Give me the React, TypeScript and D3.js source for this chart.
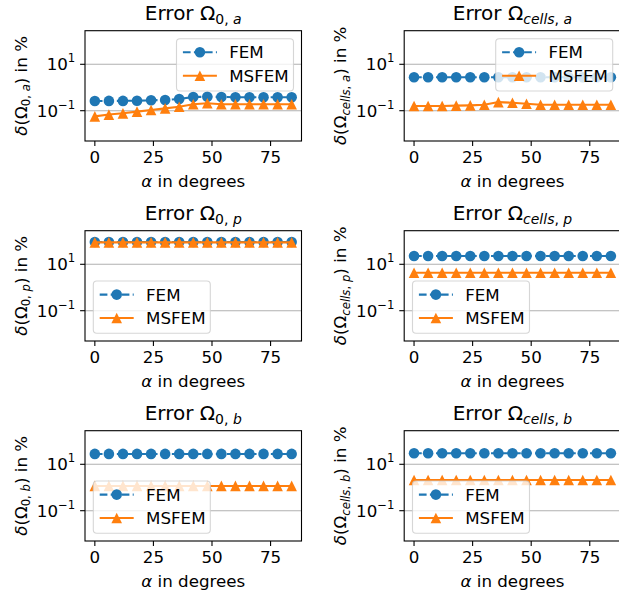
import React from 'react';
import * as d3 from 'd3';

const angles = [0, 6, 12, 18, 24, 30, 36, 42, 48, 54, 60, 66, 72, 78, 84];

const fem0a = [0.26, 0.265, 0.265, 0.27, 0.28, 0.29, 0.32, 0.39, 0.40, 0.39, 0.38, 0.38, 0.38, 0.38, 0.38];
const msfem0a = [0.057, 0.068, 0.077, 0.091, 0.107, 0.126, 0.149, 0.19, 0.21, 0.19, 0.19, 0.19, 0.19, 0.19, 0.19];
const femCellsA = [2.75, 2.75, 2.75, 2.75, 2.75, 2.75, 2.75, 2.75, 2.75, 2.75, 2.75, 2.75, 2.75, 2.75, 2.75];
const msfemCellsA = [0.16, 0.16, 0.16, 0.165, 0.17, 0.18, 0.235, 0.22, 0.2, 0.18, 0.18, 0.18, 0.18, 0.18, 0.18];
const fem0p = [92, 92, 92, 92, 92, 92, 92, 92, 92, 92, 92, 92, 92, 92, 92];
const msfem0p = [88, 88, 88, 88, 88, 88, 88, 88, 88, 88, 88, 88, 88, 88, 88];
const femCellsP = [22.8, 22.8, 22.8, 22.8, 22.8, 22.8, 22.8, 22.8, 22.8, 22.8, 22.8, 22.8, 22.8, 22.8, 22.8];
const msfemCellsP = [4.35, 4.35, 4.35, 4.35, 4.35, 4.35, 4.35, 4.35, 4.35, 4.35, 4.35, 4.35, 4.35, 4.35, 4.35];
const fem0b = [28, 28, 28, 28, 28, 28, 28, 28, 28, 28, 28, 28, 28, 28, 28];
const msfem0b = [1.17, 1.17, 1.17, 1.17, 1.17, 1.17, 1.17, 1.17, 1.17, 1.17, 1.17, 1.17, 1.17, 1.17, 1.17];
const femCellsB = [29.8, 29.8, 29.8, 29.8, 29.8, 29.8, 29.8, 29.8, 29.8, 29.8, 29.8, 29.8, 29.8, 29.8, 29.8];
const msfemCellsB = [2.12, 2.12, 2.12, 2.12, 2.12, 2.12, 2.12, 2.12, 2.12, 2.12, 2.12, 2.12, 2.12, 2.12, 2.12];

const seriesNames = ['FEM', 'MSFEM'];
const subMain = ['0', 'cells', '0', 'cells', '0', 'cells'];
const subIdx = ['a', 'a', 'p', 'p', 'b', 'b'];
const femData = [fem0a, femCellsA, fem0p, femCellsP, fem0b, femCellsB];
const msfemData = [msfem0a, msfemCellsA, msfem0p, msfemCellsP, msfem0b, msfemCellsB];
const legendLoc = ['upper right', 'upper right', 'lower left', 'lower left', 'lower left', 'lower left'];

const xTicks = [0, 25, 50, 75];
const yTicks = [10, 0.1];
const yTickExp = ['1', '\u22121'];

const BLUE = '#1f77b4';
const ORANGE = '#ff7f0e';
const FONT = 'DejaVu Sans, sans-serif';

const colX = [85, 404.2];
const rowY = [30.7, 230.7, 430.7];
const AW = 216.5;
const AH = 110.3;

function Panel({ i }: { i: number }) {
  const left = colX[i % 2];
  const top = rowY[Math.floor(i / 2)];
  const x = d3.scaleLinear().domain([-4.2, 88.2]).range([left, left + AW]);
  const y = d3.scaleLog().domain([Math.pow(10, -2.306), Math.pow(10, 2.448)]).range([top + AH, top]);
  const line = d3.line<number>().x((_, k) => x(angles[k])).y((d) => y(d));
  const fem = femData[i];
  const ms = msfemData[i];
  const isCells = subMain[i] === 'cells';
  const tri = (cx: number, cy: number, s: number) =>
    `M${cx},${cy - s}L${cx - s},${cy + s}L${cx + s},${cy + s}Z`;

  // legend box
  const bw = 117, bh = 52.3;
  const bx = legendLoc[i] === 'upper right' ? left + AW - 8 - bw : left + 8.3;
  const by = legendLoc[i] === 'upper right' ? top + 8 : top + AH - 7.7 - bh;
  const rows = [by + 13.6, by + 37];
  const hx0 = bx + 6.4, hx1 = bx + 40.4, hm = (hx0 + hx1) / 2;

  const cx = left + AW / 2;
  const cy = top + AH / 2;

  return (
    <g>
      <defs>
        <clipPath id={`clip${i}`}>
          <rect x={left} y={top} width={AW} height={AH} />
        </clipPath>
      </defs>
      {/* grid */}
      {yTicks.map((t, k) => (
        <line key={k} x1={left} x2={left + AW} y1={y(t)} y2={y(t)} stroke="#b0b0b0" strokeWidth={1.1} />
      ))}
      <g clipPath={`url(#clip${i})`}>
        <path d={line(fem) || ''} fill="none" stroke={BLUE} strokeWidth={2.08} strokeDasharray="7.7,3.3" />
        {fem.map((v, k) => (
          <circle key={k} cx={x(angles[k])} cy={y(v)} r={5.3} fill={BLUE} />
        ))}
        <path d={line(ms) || ''} fill="none" stroke={ORANGE} strokeWidth={2.08} />
        {ms.map((v, k) => (
          <path key={k} d={tri(x(angles[k]), y(v), 5.3)} fill={ORANGE} />
        ))}
      </g>
      {/* spines */}
      <rect x={left} y={top} width={AW} height={AH} fill="none" stroke="#000" strokeWidth={1.1} />
      {/* x ticks */}
      {xTicks.map((t) => (
        <g key={t}>
          <line x1={x(t)} x2={x(t)} y1={top + AH} y2={top + AH + 4.9} stroke="#000" strokeWidth={1.1} />
          <text x={x(t)} y={top + AH + 22.2} fontSize={16.7} textAnchor="middle" fontFamily={FONT}>{t}</text>
        </g>
      ))}
      {/* y ticks */}
      {yTicks.map((t, k) => (
        <g key={k}>
          <line x1={left - 4.9} x2={left} y1={y(t)} y2={y(t)} stroke="#000" strokeWidth={1.1} />
          <text x={left - 9.7} y={y(t) + 6} fontSize={16.7} textAnchor="end" fontFamily={FONT}>
            10<tspan fontSize={11.7} dy={-8}>{yTickExp[k]}</tspan>
          </text>
        </g>
      ))}
      {/* x label */}
      <text x={cx} y={top + AH + 45.5} fontSize={16.7} textAnchor="middle" fontFamily={FONT}>
        <tspan fontStyle="italic">α</tspan> in degrees
      </text>
      {/* y label */}
      <text transform={`translate(${left - 58},${cy}) rotate(-90)`} fontSize={16.7} textAnchor="middle" fontFamily={FONT}>
        <tspan fontStyle="italic">δ</tspan>(Ω
        <tspan fontSize={11.7} dy={3.3} fontStyle={isCells ? 'italic' : 'normal'}>{subMain[i]}</tspan>
        <tspan fontSize={11.7}>, </tspan>
        <tspan fontSize={11.7} fontStyle="italic">{subIdx[i]}</tspan>
        <tspan dy={-3.3}>) in %</tspan>
      </text>
      {/* title */}
      <text x={cx} y={top - 11.2} fontSize={20} textAnchor="middle" fontFamily={FONT}>
        Error Ω
        <tspan fontSize={14} dy={4} fontStyle={isCells ? 'italic' : 'normal'}>{subMain[i]}</tspan>
        <tspan fontSize={14}>, </tspan>
        <tspan fontSize={14} fontStyle="italic">{subIdx[i]}</tspan>
      </text>
      {/* legend */}
      <rect x={bx} y={by} width={bw} height={bh} rx={3.5} fill="#fff" fillOpacity={0.8} stroke="#cccccc" strokeOpacity={0.8} strokeWidth={1.1} />
      <line x1={hx0} x2={hx1} y1={rows[0]} y2={rows[0]} stroke={BLUE} strokeWidth={2.08} strokeDasharray="7.7,3.3" />
      <circle cx={hm} cy={rows[0]} r={5.3} fill={BLUE} />
      <line x1={hx0} x2={hx1} y1={rows[1]} y2={rows[1]} stroke={ORANGE} strokeWidth={2.08} />
      <path d={tri(hm, rows[1], 5.3)} fill={ORANGE} />
      {seriesNames.map((n, k) => (
        <text key={n} x={bx + 52.7} y={rows[k] + 6} fontSize={16.7} fontFamily={FONT}>{n}</text>
      ))}
    </g>
  );
}

export default function App() {
  return (
    <svg width={619} height={595} style={{ position: 'absolute', left: 0, top: 0, background: '#fff' }}>
      <rect width={619} height={595} fill="#fff" />
      {[0, 1, 2, 3, 4, 5].map((i) => (
        <Panel key={i} i={i} />
      ))}
    </svg>
  );
}
